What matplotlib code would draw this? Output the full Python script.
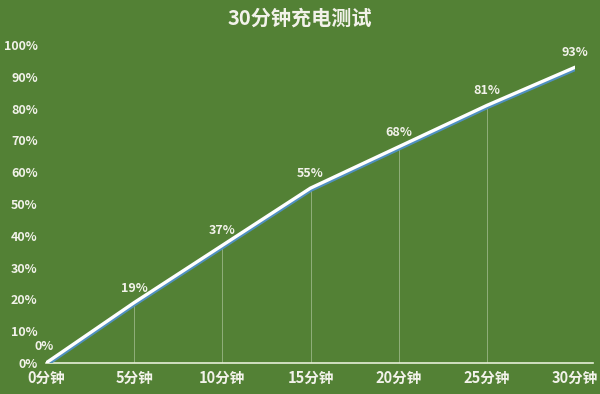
import matplotlib
matplotlib.use('Agg')
import matplotlib.pyplot as plt
import matplotlib.patheffects as pe

plt.rcParams['font.family'] = ['Noto Sans CJK SC', 'DejaVu Sans']

minutes = [0, 5, 10, 15, 20, 25, 30]
charge = [0, 19, 37, 55, 68, 81, 93]
x_labels = ['0分钟', '5分钟', '10分钟', '15分钟', '20分钟', '25分钟', '30分钟']
y_ticks = list(range(0, 101, 10))

bg = '#538135'
txt = '#f2f2ea'

fig = plt.figure(figsize=(6, 3.94), dpi=100, facecolor=bg)
ax = fig.add_axes([0.0767, 0.0787, 0.8817, 0.8071], facecolor=bg)

# drop lines from each point down to the axis
for m, c in zip(minutes[1:], charge[1:]):
    ax.plot([m, m], [0, c], color='#b8cca8', linewidth=0.6, alpha=0.7, zorder=1)

ax.plot(minutes, charge, color='#ffffff', linewidth=2.4, solid_capstyle='round',
        path_effects=[pe.SimpleLineShadow(offset=(0.3, -1.5), shadow_color='#5090c0', alpha=1),
                      pe.Normal()], zorder=3)

for m, c in zip(minutes, charge):
    if m == 0:
        ax.text(-0.1, c + 3, f'{c}%', ha='center', va='bottom', color=txt,
                fontsize=9, fontweight='bold')
    else:
        ax.text(m, c + 2.5, f'{c}%', ha='center', va='bottom', color=txt,
                fontsize=9, fontweight='bold')

ax.set_xlim(0, 30)
ax.set_ylim(0, 100)
ax.set_xticks(minutes)
ax.set_xticklabels(x_labels)
ax.set_yticks(y_ticks)
ax.set_yticklabels([f'{v}%' for v in y_ticks])
ax.tick_params(axis='both', length=0, colors=txt)
ax.tick_params(axis='x', pad=5, labelsize=10.5)
ax.tick_params(axis='y', pad=6, labelsize=9)
for lab in ax.get_xticklabels() + ax.get_yticklabels():
    lab.set_fontweight('bold')

for s in ['top', 'right', 'left']:
    ax.spines[s].set_visible(False)
ax.spines['bottom'].set_color('#e6efd8')
ax.spines['bottom'].set_linewidth(1.2)
ax.spines['bottom'].set_bounds(0, 31)

fig.text(0.5, 0.955, '30分钟充电测试', ha='center', va='center', color=txt,
         fontsize=14.5, fontweight='bold')

fig.savefig('out.png', dpi=100, facecolor=bg)
